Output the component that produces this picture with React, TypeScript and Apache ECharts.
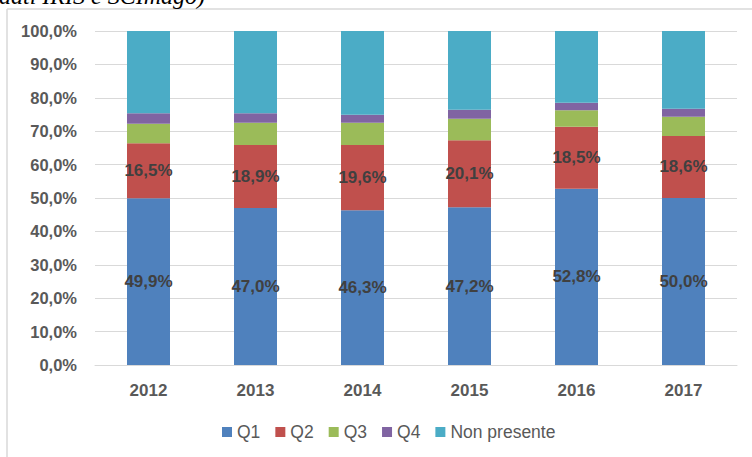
import React, { useEffect, useRef } from "react";
import * as echarts from "echarts";

const years = ["2012", "2013", "2014", "2015", "2016", "2017"];
const q1 = [49.9, 47.0, 46.3, 47.2, 52.8, 50.0];
const q2 = [16.5, 18.9, 19.6, 20.1, 18.5, 18.6];
const q3 = [5.8, 6.6, 6.6, 6.4, 5.0, 5.7];
const q4 = [3.2, 2.9, 2.4, 2.7, 2.2, 2.4];
const nonPresente = [24.6, 24.6, 25.1, 23.6, 21.5, 23.3];
const seriesNames = ["Q1", "Q2", "Q3", "Q4", "Non presente"];
const colors = ["#4f81bd", "#c0504d", "#9bbb59", "#8064a2", "#4bacc6"];
const titleText = "dati IRIS e SCImago)";

const fmt = (v: number) => v.toFixed(1).replace(".", ",") + "%";

export default function App() {
  const ref = useRef<HTMLDivElement>(null);
  useEffect(() => {
    if (!ref.current) return;
    const chart = echarts.init(ref.current, undefined, { renderer: "svg" });
    const font = "'Liberation Sans', Arial, sans-serif";
    const dataSets = [q1, q2, q3, q4, nonPresente];
    chart.setOption({
      animation: false,
      color: colors,
      textStyle: { fontFamily: font },
      grid: { left: 95, top: 31, width: 642, height: 334, containLabel: false },
      legend: {
        left: 222,
        top: 423,
        padding: 0,
        itemWidth: 10,
        itemHeight: 10,
        itemGap: 15,
        icon: "rect",
        textStyle: { fontSize: 17.5, color: "#595959", fontFamily: font },
        data: seriesNames,
      },
      xAxis: {
        type: "category",
        data: years,
        axisTick: { show: false },
        axisLine: { lineStyle: { color: "#d9d9d9", width: 1 } },
        axisLabel: { color: "#595959", fontSize: 17, fontWeight: "bold", margin: 17 },
      },
      yAxis: {
        type: "value",
        min: 0,
        max: 100,
        interval: 10,
        axisLine: { show: false },
        axisTick: { show: false },
        splitLine: { lineStyle: { color: "#d9d9d9", width: 1 } },
        axisLabel: {
          color: "#595959",
          fontSize: 16.5,
          fontWeight: "bold",
          margin: 18,
          formatter: (v: number) => fmt(v),
        },
      },
      graphic: [
        {
          type: "line",
          shape: { x1: 7, y1: 9, x2: 760, y2: 9 },
          style: { stroke: "#d9d9d9", lineWidth: 1.5 },
        },
        {
          type: "line",
          shape: { x1: 7, y1: 9, x2: 7, y2: 470 },
          style: { stroke: "#d9d9d9", lineWidth: 1.5 },
        },
        {
          type: "text",
          x: -1,
          y: -4,
          style: {
            text: titleText,
            fontFamily: "'Liberation Serif', 'Times New Roman', serif",
            fontStyle: "italic",
            fontSize: 24,
            fill: "#000",
            verticalAlign: "middle",
          },
        },
      ],
      series: seriesNames.map((name, i) => ({
        name,
        type: "bar",
        stack: "total",
        barWidth: 43,
        data: dataSets[i],
        label:
          i < 2
            ? {
                show: true,
                position: "inside",
                color: "#404040",
                fontSize: 17,
                fontWeight: "bold",
                fontFamily: font,
                formatter: (p: any) => fmt(p.value),
              }
            : { show: false },
      })),
    });
    return () => chart.dispose();
  }, []);
  return (
    <div
      ref={ref}
      style={{ position: "fixed", left: 0, top: 0, width: 752, height: 457, background: "#fff" }}
    />
  );
}
